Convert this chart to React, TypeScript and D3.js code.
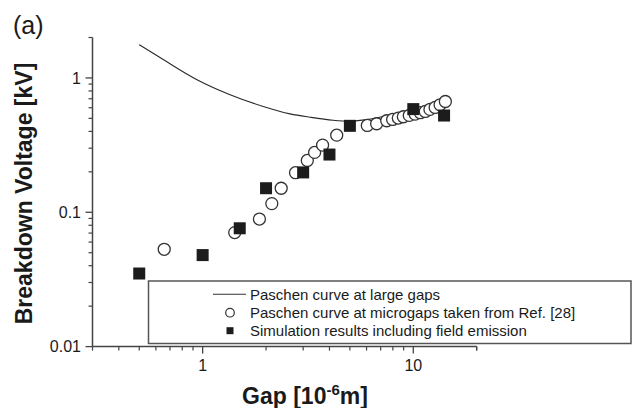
import React from "react";
import * as d3 from "d3";

// Paschen curve at large gaps (gap in µm, voltage in kV)
const paschenGap = [0.5, 0.65, 0.94, 1.35, 1.94, 2.6, 3.23, 4.16, 5.0, 6.0, 7.75, 10, 14.4];
const paschenV = [1.77, 1.37, 0.97, 0.75, 0.613, 0.54, 0.51, 0.484, 0.476, 0.49, 0.53, 0.585, 0.69];

// Paschen curve at microgaps (Ref. [28])
const microGap = [0.657, 1.42, 1.86, 2.13, 2.36, 2.76, 3.14, 3.4, 3.71, 4.33, 6.05, 6.7, 7.48, 7.98, 8.49, 8.97, 9.57, 10.2, 10.8, 11.4, 12.0, 12.7, 13.4, 14.2];
const microV = [0.053, 0.0706, 0.089, 0.116, 0.151, 0.197, 0.243, 0.279, 0.316, 0.375, 0.443, 0.456, 0.48, 0.491, 0.503, 0.514, 0.526, 0.538, 0.551, 0.563, 0.583, 0.603, 0.631, 0.668];

// Simulation results including field emission
const simGap = [0.5, 1.0, 1.5, 2.0, 3.0, 4.0, 5.0, 10, 14];
const simV = [0.035, 0.048, 0.076, 0.151, 0.198, 0.269, 0.44, 0.586, 0.525];

const xMajor = [1, 10];
const xMajorLabels = ["1", "10"];
const yMajor = [0.01, 0.1, 1];
const yMajorLabels = ["0.01", "0.1", "1"];

const legendLabels = [
  "Paschen curve at large gaps",
  "Paschen curve at microgaps taken from Ref. [28]",
  "Simulation results including field emission",
];

const W = 632;
const H = 408;
const FONT = "'Liberation Sans', Arial, Helvetica, sans-serif";

export default function App() {
  const x = d3.scaleLog().domain([0.3, 20]).range([92.5, 476.7]);
  const y = d3.scaleLog().domain([0.01, 2]).range([346.6, 37.5]);
  const x0 = 92.5;
  const yb = 346.6;

  const xMinor: number[] = [];
  [0.1, 1, 10].forEach((d) => {
    for (let k = 2; k <= 9; k++) {
      const v = d * k;
      if (v >= 0.3 - 1e-9 && v <= 20 + 1e-9) xMinor.push(v);
    }
  });
  xMinor.push(20);
  const yMinor: number[] = [];
  [0.01, 0.1, 1].forEach((d) => {
    for (let k = 2; k <= 9; k++) {
      const v = d * k;
      if (v <= 2 + 1e-9) yMinor.push(v);
    }
  });

  const line = d3
    .line<number>()
    .x((_, i) => x(paschenGap[i]))
    .y((d) => y(d))
    .curve(d3.curveMonotoneX);

  const axisColor = "#444";
  const textColor = "#1a1a1a";

  const legX = 148.5;
  const legY = 281;
  const legRows = [294.3, 312.7, 330.7];

  return (
    <svg
      width={W}
      height={H}
      style={{ position: "absolute", left: 0, top: 0, background: "#fff" }}
      fontFamily={FONT}
    >
      <rect x={0} y={0} width={W} height={H} fill="#fff" />
      <text x={13} y={33.5} fontSize={25} fill={textColor}>(a)</text>

      {/* Paschen curve */}
      <path d={line(paschenV) || ""} fill="none" stroke="#2a2a2a" strokeWidth={1.1} />

      {/* microgap circles */}
      {microGap.map((g, i) => (
        <circle key={"c" + i} cx={x(g)} cy={y(microV[i])} r={6} fill="#fff" stroke="#333" strokeWidth={1.3} />
      ))}

      {/* simulation squares */}
      {simGap.map((g, i) => (
        <rect key={"s" + i} x={x(g) - 6} y={y(simV[i]) - 6} width={12} height={12} fill="#1c1c1c" />
      ))}

      {/* Legend */}
      <rect x={legX} y={legY} width={W - legX - 1} height={62.5} fill="#fff" stroke="#555" strokeWidth={1.5} />
      <line x1={213} x2={246} y1={legRows[0]} y2={legRows[0]} stroke="#333" strokeWidth={1.1} />
      <circle cx={230} cy={legRows[1]} r={4.3} fill="#fff" stroke="#333" strokeWidth={1.2} />
      <rect x={226.5} y={legRows[2] - 3.5} width={7} height={7} fill="#1c1c1c" />
      {legendLabels.map((t, i) => (
        <text key={"l" + i} x={250} y={legRows[i] + 5.3} fontSize={15} fill={textColor}>
          {t}
        </text>
      ))}

      {/* Axes */}
      <line x1={x0} x2={x0} y1={37.5} y2={yb} stroke={axisColor} strokeWidth={1.5} />
      <line x1={x0} x2={476.7} y1={yb} y2={yb} stroke={axisColor} strokeWidth={1.5} />
      {yMajor.map((v, i) => (
        <g key={"ym" + i}>
          <line x1={x0 - 7} x2={x0} y1={y(v)} y2={y(v)} stroke={axisColor} strokeWidth={1.3} />
          <text x={81} y={y(v) + 5.7} fontSize={16} textAnchor="end" fill={textColor}>
            {yMajorLabels[i]}
          </text>
        </g>
      ))}
      {yMinor.map((v, i) => (
        <line key={"yn" + i} x1={x0 - 4} x2={x0} y1={y(v)} y2={y(v)} stroke={axisColor} strokeWidth={1.2} />
      ))}
      {xMajor.map((v, i) => (
        <g key={"xm" + i}>
          <line x1={x(v)} x2={x(v)} y1={yb} y2={yb + 7} stroke={axisColor} strokeWidth={1.3} />
          <text x={x(v)} y={370.7} fontSize={16} textAnchor="middle" fill={textColor}>
            {xMajorLabels[i]}
          </text>
        </g>
      ))}
      {xMinor.map((v, i) => (
        <line key={"xn" + i} x1={x(v)} x2={x(v)} y1={yb} y2={yb + 4} stroke={axisColor} strokeWidth={1.2} />
      ))}

      {/* Axis titles */}
      <text
        transform="translate(32,193.5) rotate(-90)"
        textAnchor="middle"
        fontSize={23}
        fontWeight="bold"
        fill={textColor}
      >
        Breakdown Voltage [kV]
      </text>
      <text x={305} y={403.5} textAnchor="middle" fontSize={23} fontWeight="bold" fill={textColor}>
        Gap [10
        <tspan fontSize={15} dy={-9}>-6</tspan>
        <tspan dy={9}>m]</tspan>
      </text>
    </svg>
  );
}
